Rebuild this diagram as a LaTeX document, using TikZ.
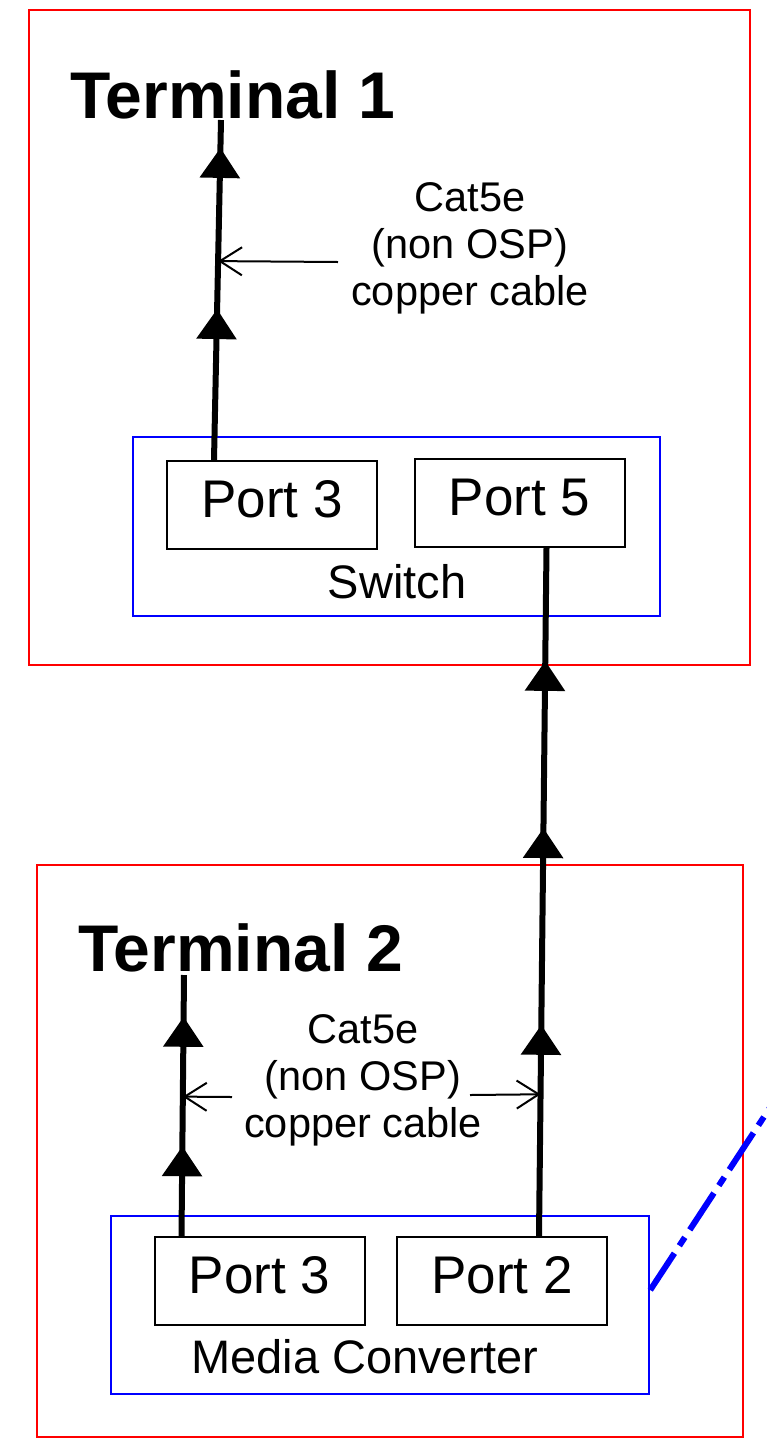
\documentclass[tikz,border=0pt]{standalone}
\usepackage{fontspec}
\setmainfont{Liberation Sans}
\usetikzlibrary{arrows.meta,decorations.markings}
\begin{document}
\begin{tikzpicture}[x=1pt,y=-1pt,
  terminal/.style={draw=red, line width=2.5pt, inner sep=0pt},
  device/.style={draw=blue, line width=2.5pt, inner sep=0pt},
  port/.style={draw=black, line width=2pt, minimum width=210pt, minimum height=88pt,
    inner sep=0pt, text depth=12pt, font=\fontsize{53}{60}\selectfont},
  title/.style={anchor=base west, inner sep=0pt, font=\fontsize{66}{76}\bfseries\selectfont},
  devlabel/.style={inner sep=0pt, font=\fontsize{47}{54}\selectfont},
  note/.style={align=center, inner sep=0pt, font=\fontsize{41.5}{47}\selectfont},
  cable/.style={line width=6pt, decoration=markings, postaction=decorate},
  flow/.style={decoration={mark=at position #1 with {\arrow{Triangle[width=39pt,length=30pt]}}}},
  pointer/.style={line width=2pt, -{Straight Barb[length=22pt,width=28pt]}},
  fibre/.style={draw=blue, line width=6pt, dash pattern=on 44pt off 9pt on 10pt off 9pt}
]
\clip (0,0) rectangle (767,1441);

% terminal enclosures
\node[terminal, minimum width=721pt, minimum height=655pt] (t1) at (389.5,337.5) {};
\node[terminal, minimum width=706pt, minimum height=572pt] (t2) at (390,1151) {};
\node[title] (t1title) at (70,118) {Terminal 1};
\node[title] (t2title) at (78,971) {Terminal 2};

% devices
\node[device, minimum width=527pt, minimum height=179pt] (sw) at (396.5,526.5) {};
\node[device, minimum width=538pt, minimum height=178pt] (mc) at (380,1305) {};
\node[devlabel] (swlabel) at (397,582) {Switch};
\node[devlabel] (mclabel) at (365,1357) {Media Converter};

% ports
\node[port] (p3a) at (272,505) {Port 3};
\node[port] (p5) at (519.5,503) {Port 5};
\node[port] (p3b) at (259.5,1281) {Port 3};
\node[port] (p2) at (502,1281) {Port 2};

% free cable ends
\coordinate (c1end) at (221,120);
\coordinate (c3end) at (184,975);

% copper cables
\draw[cable, flow=0.444, flow=0.918]
  ([xshift=48pt]p3a.north west) -- coordinate[pos=0.585] (c1mid) (c1end);
\draw[cable, flow=0.307, flow=0.593, flow=0.836]
  ([xshift=143pt]p2.north west) -- coordinate[pos=0.206] (c2mid) ([xshift=133pt]p5.south west);
\draw[cable, flow=0.344, flow=0.84]
  ([xshift=28pt]p3b.north west) -- coordinate[pos=0.534] (c3mid) (c3end);

% cable notes
\node[note] (n1) at (470,248) {Cat5e\\(non OSP)\\copper cable};
\node[note] (n2) at (363,1080) {Cat5e\\(non OSP)\\copper cable};
\coordinate (n1from) at (338,262);
\coordinate (n2left) at (232,1097);
\coordinate (n2right) at (470,1095);
\draw[pointer] (n1from) -- (c1mid);
\draw[pointer] (n2left) -- (c3mid);
\draw[pointer] (n2right) -- (c2mid);

% fibre link leaving the media converter
\coordinate (fibreend) at (775,1100);
\draw[fibre] ([yshift=15pt]mc.east) -- (fibreend);
\end{tikzpicture}
\end{document}
